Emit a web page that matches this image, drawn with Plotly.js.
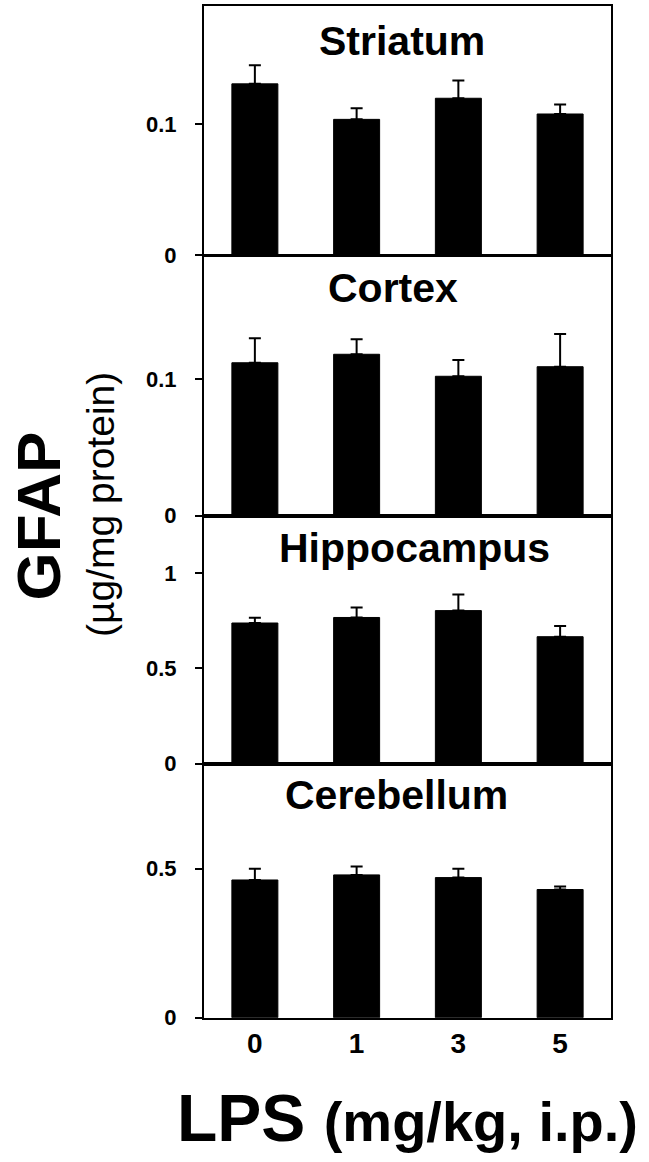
<!DOCTYPE html>
<html>
<head>
<meta charset="utf-8">
<script src="https://cdn.plot.ly/plotly-3.0.1.min.js"></script>
<style>html,body{margin:0;padding:0;background:#fff;}#chart{width:649px;height:1162px;}</style>
</head>
<body>
<div id="chart"></div>
<script>
// ---- data ----
const doses = ["0", "1", "3", "5"];
const regions = ["Striatum", "Cortex", "Hippocampus", "Cerebellum"];
const striatum = [0.1306, 0.1035, 0.1196, 0.1076];
const striatumErr = [0.0142, 0.0084, 0.0135, 0.0072];
const cortex = [0.1119, 0.1181, 0.1020, 0.1090];
const cortexErr = [0.0180, 0.0110, 0.0120, 0.0240];
const hippocampus = [0.738, 0.767, 0.803, 0.666];
const hippocampusErr = [0.028, 0.053, 0.085, 0.056];
const cerebellum = [0.462, 0.479, 0.470, 0.430];
const cerebellumErr = [0.038, 0.028, 0.030, 0.010];
const yRanges = [[0, 0.19], [0, 0.19], [0, 1.3], [0, 0.85]];
const yTicks = [[0, 0.1], [0, 0.1], [0, 0.5, 1], [0, 0.5]];
const yTickText = [["0", "0.1"], ["0", "0.1"], ["0", "0.5", "1"], ["0", "0.5"]];
const yTitle = "GFAP";
const ySubTitle = "(µg/mg protein)";
const xTitle = "LPS";
const xSubTitle = "(mg/kg, i.p.)";

const values = [striatum, cortex, hippocampus, cerebellum];
const errs = [striatumErr, cortexErr, hippocampusErr, cerebellumErr];

// ---- layout geometry (pixels) ----
const W = 649, H = 1162;
const px = x => x / W;
const py = y => 1 - y / H;
const panelPix = [[6, 255], [256, 515.7], [516, 763.5], [764.3, 1017.7]];
const titlePos = [[402, 41], [392.5, 288], [414, 548], [396, 795]];
const FONT = "Liberation Sans, Arial, Helvetica, sans-serif";

const traces = [];
const layout = {
  width: W, height: H,
  margin: {l: 0, r: 0, t: 0, b: 0},
  paper_bgcolor: "#fff", plot_bgcolor: "#fff",
  showlegend: false,
  bargap: 0.548,
  font: {family: FONT, color: "#000"},
  annotations: []
};

for (let i = 0; i < 4; i++) {
  const sfx = i === 0 ? "" : String(i + 1);
  traces.push({
    type: "bar",
    x: doses, y: values[i],
    xaxis: "x" + sfx, yaxis: "y" + sfx,
    marker: {color: "#000", line: {color: "#000", width: 1}},
    error_y: {type: "data", array: errs[i], symmetric: false, arrayminus: errs[i].map(() => 0),
              color: "#000", thickness: 2, width: 6},
    hoverinfo: "skip"
  });
  layout["xaxis" + sfx] = {
    domain: [px(204), px(611)],
    anchor: "y" + sfx,
    type: "category",
    showline: true, mirror: true, linecolor: "#000", linewidth: 2,
    showgrid: false, zeroline: false, ticks: "",
    showticklabels: i === 3,
    tickfont: {family: FONT, size: 28, color: "#000", weight: "bold"},
    ticklabelstandoff: 0,
    fixedrange: true
  };
  layout["yaxis" + sfx] = {
    domain: [py(panelPix[i][1]), py(panelPix[i][0])],
    anchor: "x" + sfx,
    range: yRanges[i],
    tickmode: "array", tickvals: yTicks[i], ticktext: yTickText[i],
    showline: true, mirror: true, linecolor: "#000", linewidth: 2,
    showgrid: false, zeroline: false,
    ticks: "outside", ticklen: 7, tickwidth: 2, tickcolor: "#000",
    tickfont: {family: FONT, size: 22, color: "#000", weight: "bold"},
    ticklabelstandoff: 14,
    fixedrange: true
  };
  layout.annotations.push({
    xref: "paper", yref: "paper",
    x: px(titlePos[i][0]), y: py(titlePos[i][1]),
    xanchor: "center", yanchor: "middle",
    text: "<b>" + regions[i] + "</b>", showarrow: false,
    font: {family: FONT, size: 41, color: "#000"}
  });
}

layout.annotations.push({
  xref: "paper", yref: "paper", x: px(2), y: py(516),
  xanchor: "left", yanchor: "middle", textangle: -90, borderpad: 0,
  text: "<b>" + yTitle + "</b>", showarrow: false,
  font: {family: FONT, size: 62, color: "#000"}
});
layout.annotations.push({
  xref: "paper", yref: "paper", x: px(100), y: py(505),
  xanchor: "center", yanchor: "middle", textangle: -90,
  text: ySubTitle, showarrow: false,
  font: {family: FONT, size: 39, color: "#000"}
});
layout.annotations.push({
  xref: "paper", yref: "paper", x: px(407), y: py(1118),
  xanchor: "center", yanchor: "middle",
  text: "<b>" + xTitle + " <span style=\"font-size:56px\">" + xSubTitle + "</span></b>", showarrow: false,
  font: {family: FONT, size: 66, color: "#000"}
});

Plotly.newPlot("chart", traces, layout, {displayModeBar: false, staticPlot: true});
</script>
</body>
</html>
